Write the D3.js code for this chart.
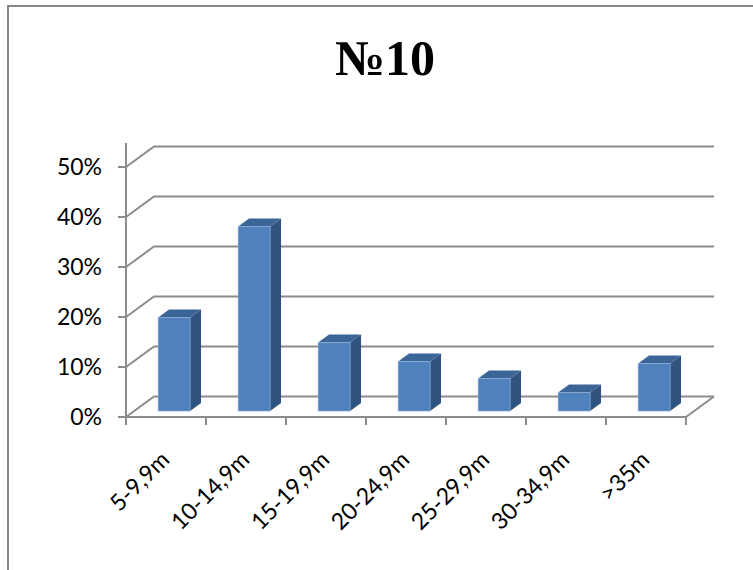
<!DOCTYPE html>
<html>
<head>
<meta charset="utf-8">
<script src="https://cdn.jsdelivr.net/npm/d3@7"></script>
<style>
  html, body { margin: 0; padding: 0; background: #fff; }
  svg { display: block; }
</style>
</head>
<body>
<svg id="chart" width="753" height="570"></svg>
<script>
// Share of measurements per length class
const categories = ["5-9,9m", "10-14,9m", "15-19,9m", "20-24,9m", "25-29,9m", "30-34,9m", ">35m"];
const shares = [0.187, 0.369, 0.137, 0.099, 0.065, 0.037, 0.095];
const yTicks = [0, 0.1, 0.2, 0.3, 0.4, 0.5];
const title = "№10";

const svg = d3.select("#chart");

// Chart frame
svg.append("rect")
  .attr("x", 8).attr("y", 6)
  .attr("width", 800).attr("height", 600)
  .attr("fill", "#fff")
  .attr("stroke", "#868686").attr("stroke-width", 2);

svg.append("text")
  .attr("x", 385).attr("y", 75)
  .attr("text-anchor", "middle")
  .attr("font-family", "'Liberation Serif', serif")
  .attr("font-weight", "bold")
  .attr("font-size", 50)
  .attr("fill", "#000")
  .text(title);

// Plot geometry with oblique depth
const x0 = 126, x1 = 686;
const depthX = 28, depthY = -20.5;

const x = d3.scaleBand().domain(categories).range([x0, x1]);
const y = d3.scaleLinear().domain([0, 0.5]).range([417, 167]);

const grid = "#8c8c8c";
const g = svg.append("g");

// Gridlines: diagonal on the side wall, then across the back wall
yTicks.forEach(t => {
  const yy = y(t);
  g.append("path")
    .attr("d", `M${x0},${yy} L${x0 + depthX},${yy + depthY} L${x1 + depthX},${yy + depthY}`)
    .attr("fill", "none").attr("stroke", grid).attr("stroke-width", 2);
});

// Floor right edge
g.append("line")
  .attr("x1", x1).attr("y1", y(0))
  .attr("x2", x1 + depthX).attr("y2", y(0) + depthY)
  .attr("stroke", grid).attr("stroke-width", 2);

// Vertical axis
g.append("line")
  .attr("x1", x0).attr("y1", 143).attr("x2", x0).attr("y2", y(0))
  .attr("stroke", grid).attr("stroke-width", 2);

// Horizontal axis
g.append("line")
  .attr("x1", x0).attr("y1", y(0)).attr("x2", x1).attr("y2", y(0))
  .attr("stroke", grid).attr("stroke-width", 2);

// Y ticks and labels
yTicks.forEach(t => {
  g.append("line")
    .attr("x1", x0 - 8).attr("y1", y(t)).attr("x2", x0).attr("y2", y(t))
    .attr("stroke", grid).attr("stroke-width", 2);
  g.append("text")
    .attr("x", 102).attr("y", y(t))
    .attr("dy", "0.36em")
    .attr("text-anchor", "end")
    .attr("font-family", "Lato, sans-serif")
    .attr("font-size", 23)
    .attr("fill", "#000")
    .text(d3.format(".0%")(t));
});

// X ticks at band boundaries
const bounds = categories.map(c => x(c)).concat([x1]);
bounds.forEach(b => {
  g.append("line")
    .attr("x1", b).attr("y1", y(0)).attr("x2", b).attr("y2", y(0) + 8)
    .attr("stroke", grid).attr("stroke-width", 2);
});

// Category labels, rotated
categories.forEach(c => {
  const cx = x(c) + x.bandwidth() / 2 + 5;
  g.append("text")
    .attr("transform", `translate(${cx},461) rotate(-45)`)
    .attr("text-anchor", "end")
    .attr("font-family", "Lato, sans-serif")
    .attr("font-size", 23)
    .attr("fill", "#000")
    .text(c);
});

// 3D columns
const barW = 32;
const dIn = 0.29, dOut = 0.68;
const bx = depthX * dIn, by = depthY * dIn;
const ddx = depthX * (dOut - dIn), ddy = depthY * (dOut - dIn);

const bars = g.append("g");
categories.forEach((c, i) => {
  const left = x(c) + x.bandwidth() / 2 - barW / 2 + bx;
  const right = left + barW;
  const top = y(shares[i]) + by;
  const bottom = y(0) + by;
  const b = bars.append("g");
  b.append("path")
    .attr("d", `M${right},${top} L${right + ddx},${top + ddy} L${right + ddx},${bottom + ddy} L${right},${bottom} Z`)
    .attr("fill", "#31537f");
  b.append("path")
    .attr("d", `M${left},${top} L${right},${top} L${right + ddx},${top + ddy} L${left + ddx},${top + ddy} Z`)
    .attr("fill", "#3b6497");
  b.append("rect")
    .attr("x", left).attr("y", top)
    .attr("width", barW).attr("height", bottom - top)
    .attr("fill", "#4f81bd")
    .attr("stroke", "#8eb0da").attr("stroke-width", 0.6);
});
</script>
</body>
</html>
